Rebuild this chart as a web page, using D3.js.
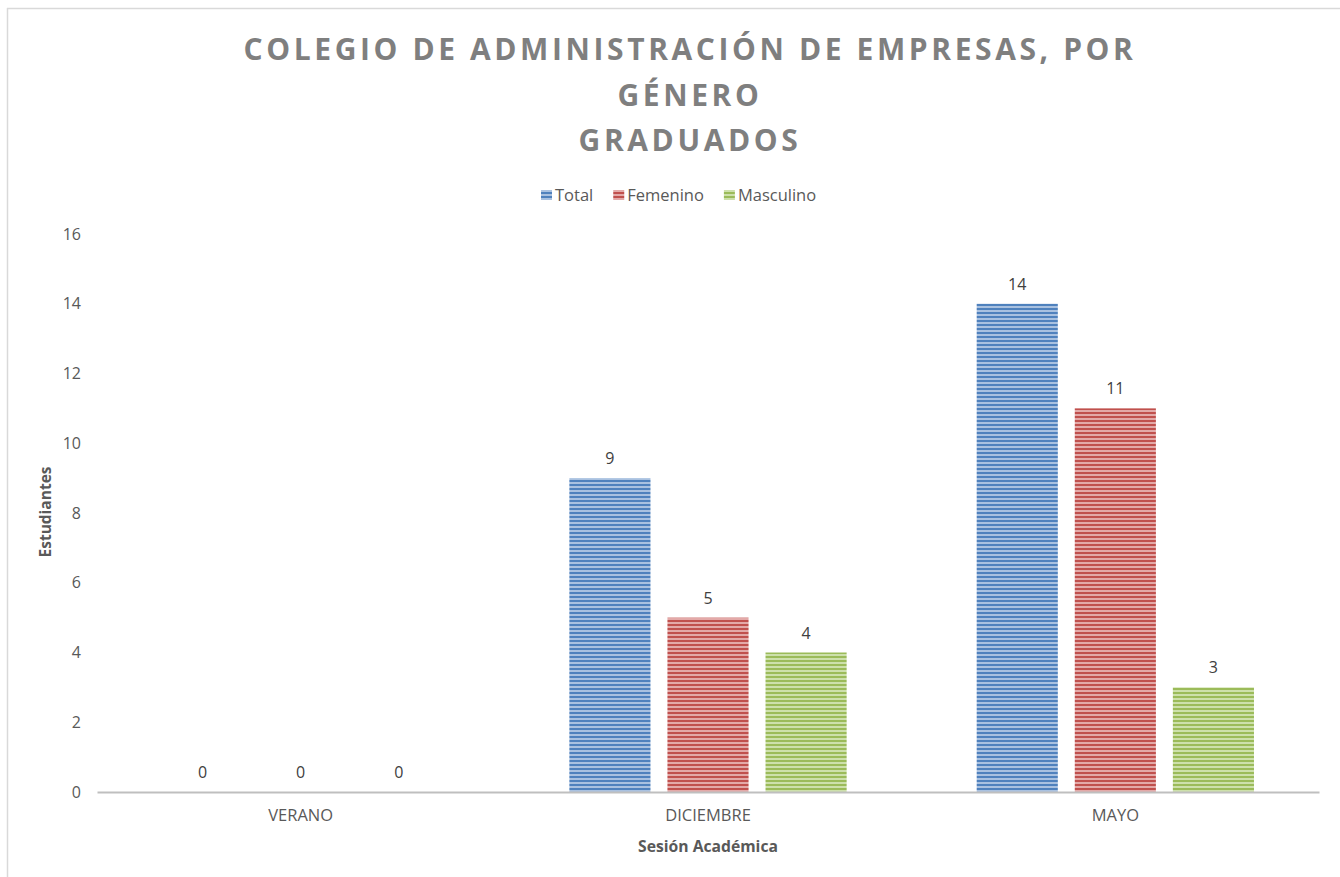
<!DOCTYPE html>
<html>
<head>
<meta charset="utf-8">
<script src="https://cdn.jsdelivr.net/npm/d3@7"></script>
<style>
  body { margin: 0; background: #fff; }
  text { font-family: "Open Sans", "DejaVu Sans", sans-serif; }
</style>
</head>
<body>
<div id="chart"></div>
<script>
// data
var sessions = ["VERANO", "DICIEMBRE", "MAYO"];
var seriesNames = ["Total", "Femenino", "Masculino"];
var total = [0, 9, 14];
var femenino = [0, 5, 11];
var masculino = [0, 4, 3];
var yTicks = [0, 2, 4, 6, 8, 10, 12, 14, 16];
var titleLines = ["COLEGIO DE ADMINISTRACIÓN DE EMPRESAS, POR", "GÉNERO", "GRADUADOS"];

var colors = ["#4f81bd", "#c0504d", "#9bbb59"];
var lightColors = ["#a9c1e0", "#e3a9a8", "#cde0ab"];

var width = 1340, height = 877;
var margin = {top: 234, right: 21, bottom: 85, left: 97};
var innerW = width - margin.left - margin.right;
var innerH = height - margin.top - margin.bottom;

var rows = sessions.map(function(s, i) {
    return {session: s, Total: total[i], Femenino: femenino[i], Masculino: masculino[i]};
});

var svg = d3.select("#chart").append("svg")
    .attr("width", width)
    .attr("height", height);

// striped fills
var defs = svg.append("defs");
seriesNames.forEach(function(name, i) {
    var p = defs.append("pattern")
        .attr("id", "stripe" + i)
        .attr("patternUnits", "userSpaceOnUse")
        .attr("width", 8)
        .attr("height", 4);
    p.append("rect").attr("width", 8).attr("height", 4).attr("fill", lightColors[i]);
    p.append("rect").attr("y", 2).attr("width", 8).attr("height", 2).attr("fill", colors[i]);
});

// chart border (top & left visible)
svg.append("line").attr("x1", 7).attr("x2", width).attr("y1", 8.5).attr("y2", 8.5)
    .attr("stroke", "#d9d9d9").attr("stroke-width", 1.5);
svg.append("line").attr("x1", 7.5).attr("x2", 7.5).attr("y1", 8).attr("y2", height)
    .attr("stroke", "#d9d9d9").attr("stroke-width", 1.5);

var g = svg.append("g").attr("transform", "translate(" + margin.left + "," + margin.top + ")");

var x0 = d3.scaleBand().domain(sessions).range([0, innerW]).padding(0);
var x1 = d3.scaleBand().domain(seriesNames).range([0, x0.bandwidth()])
    .paddingInner(0.173).paddingOuter(0.663);
var y = d3.scaleLinear().domain([0, 16]).range([innerH, 0]);

// y tick labels (no axis line)
var yAxis = d3.axisLeft(y).tickValues(yTicks).tickSize(0).tickPadding(16);
g.append("g").call(yAxis)
    .call(function(a) { a.select(".domain").remove(); })
    .selectAll("text")
    .attr("fill", "#595959")
    .style("font-size", "16px");

// bars
var groups = g.append("g").selectAll("g")
    .data(rows)
    .join("g")
    .attr("transform", function(d) { return "translate(" + x0(d.session) + ",0)"; });

groups.selectAll("rect")
    .data(function(d) {
        return seriesNames.map(function(k, i) { return {key: k, i: i, value: d[k]}; });
    })
    .join("rect")
    .attr("x", function(d) { return x1(d.key); })
    .attr("y", function(d) { return y(d.value); })
    .attr("width", x1.bandwidth())
    .attr("height", function(d) { return y(0) - y(d.value); })
    .attr("fill", function(d) { return "url(#stripe" + d.i + ")"; });

groups.selectAll("text.val")
    .data(function(d) {
        return seriesNames.map(function(k) { return {key: k, value: d[k]}; });
    })
    .join("text")
    .attr("class", "val")
    .attr("x", function(d) { return x1(d.key) + x1.bandwidth() / 2; })
    .attr("y", function(d) { return y(d.value) - 14; })
    .attr("text-anchor", "middle")
    .attr("fill", "#404040")
    .style("font-size", "16px")
    .text(function(d) { return d.value; });

// x axis
var xAxis = d3.axisBottom(x0).tickSize(0).tickPadding(17);
var xg = g.append("g").attr("transform", "translate(0," + innerH + ")").call(xAxis);
xg.select(".domain").attr("stroke", "#bfbfbf").attr("stroke-width", 2);
xg.selectAll("text").attr("fill", "#595959").style("font-size", "16.5px");

// axis titles
svg.append("text")
    .attr("x", margin.left + x0("DICIEMBRE") + x0.bandwidth() / 2)
    .attr("y", 852)
    .attr("text-anchor", "middle")
    .attr("fill", "#595959")
    .style("font-size", "15.7px")
    .style("font-weight", "bold")
    .text("Sesión Académica");

svg.append("text")
    .attr("transform", "translate(51,512) rotate(-90)")
    .attr("text-anchor", "middle")
    .attr("fill", "#595959")
    .style("font-size", "15.5px")
    .style("font-weight", "bold")
    .text("Estudiantes");

// title
svg.append("g").selectAll("text")
    .data(titleLines)
    .join("text")
    .attr("x", 690)
    .attr("y", function(d, i) { return 60 + i * 45.5; })
    .attr("text-anchor", "middle")
    .attr("fill", "#7f7f7f")
    .style("font-size", "30px")
    .style("font-weight", "bold")
    .style("letter-spacing", "3.6px")
    .text(function(d) { return d; });

// legend
var legend = svg.append("g").attr("transform", "translate(541,190)");
var lx = 0;
seriesNames.forEach(function(name, i) {
    var item = legend.append("g").attr("transform", "translate(" + lx + ",0)");
    item.append("rect").attr("width", 11).attr("height", 10)
        .attr("fill", "url(#stripe" + i + ")");
    var t = item.append("text").attr("x", 14).attr("y", 10.5)
        .attr("fill", "#595959")
        .style("font-size", "16.5px")
        .text(name);
    lx += 14 + t.node().getComputedTextLength() + 20;
});
</script>
</body>
</html>
